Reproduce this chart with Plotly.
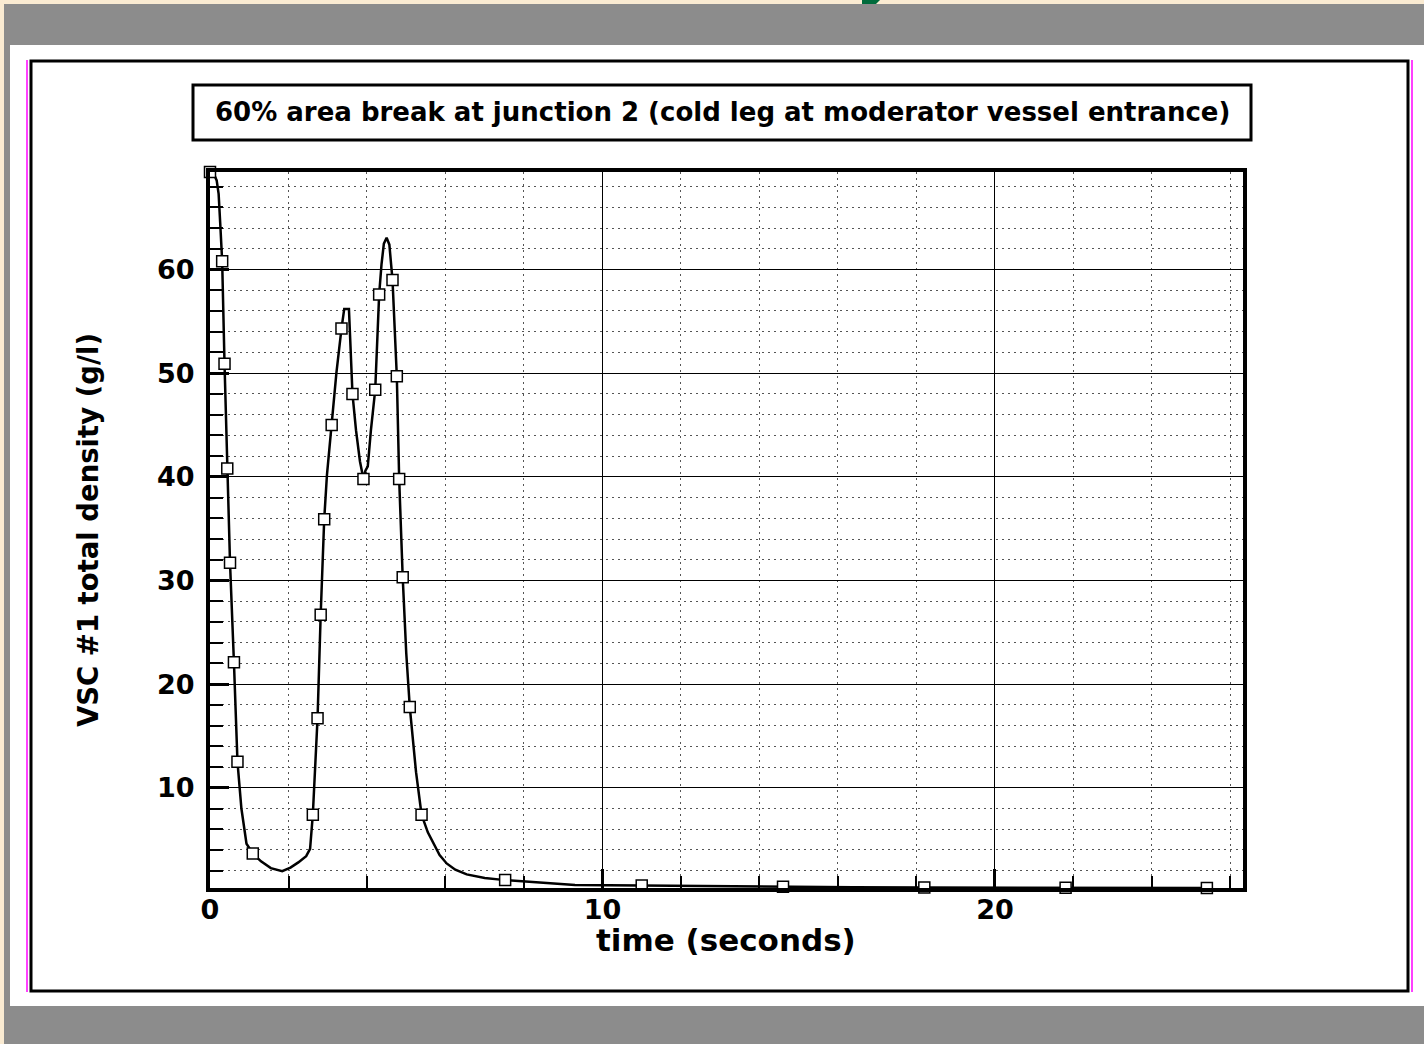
import plotly.graph_objects as go

# ---------------- data ----------------
curve_time = [0.00, 0.10, 0.17, 0.22, 0.26, 0.31, 0.37, 0.44, 0.51, 0.61, 0.70, 0.80, 0.93,
              1.09, 1.30, 1.55, 1.84, 2.05, 2.25, 2.45, 2.55, 2.62, 2.74, 2.82, 2.91, 2.98,
              3.10, 3.22, 3.35, 3.42, 3.54, 3.58, 3.63, 3.72, 3.82, 3.91, 3.96, 4.02, 4.10,
              4.21, 4.31, 4.37, 4.43, 4.50, 4.57, 4.65, 4.71, 4.76, 4.82, 4.91, 5.00, 5.09,
              5.25, 5.39, 5.55, 5.69, 5.85, 6.03, 6.25, 6.54, 7.00, 7.52, 8.66, 9.30, 11.0,
              12.8, 14.6, 16.4, 18.2, 21.8, 25.4]
curve_density = [69.41, 69.2, 68.6, 67.3, 64.5, 60.8, 50.9, 40.8, 31.7, 22.1, 12.5, 8.0, 4.6,
                 3.66, 2.9, 2.25, 1.95, 2.3, 2.8, 3.4, 4.1, 7.4, 16.7, 26.7, 35.9, 40.2,
                 45.0, 50.0, 54.3, 56.2, 56.2, 52.0, 48.0, 44.5, 41.5, 39.8, 40.6, 41.0, 44.5,
                 48.4, 57.6, 60.5, 62.5, 63.06, 62.4, 59.0, 54.0, 49.7, 39.8, 30.3, 23.0, 17.8,
                 11.5, 7.4, 5.7, 4.6, 3.5, 2.7, 2.1, 1.64, 1.3, 1.09, 0.77, 0.62, 0.58,
                 0.50, 0.45, 0.40, 0.37, 0.35, 0.33]

marker_time = [0.00, 0.31, 0.37, 0.44, 0.51, 0.61, 0.70, 1.09, 2.62, 2.74, 2.82, 2.91, 3.10,
               3.35, 3.63, 3.91, 4.21, 4.31, 4.65, 4.76, 4.82, 4.91, 5.09, 5.39, 7.52, 11.0,
               14.6, 18.2, 21.8, 25.4]
marker_density = [69.41, 60.8, 50.9, 40.8, 31.7, 22.1, 12.5, 3.66, 7.4, 16.7, 26.7, 35.9, 45.0,
                  54.3, 48.0, 39.8, 48.4, 57.6, 59.0, 49.7, 39.8, 30.3, 17.8, 7.4, 1.09, 0.58,
                  0.45, 0.37, 0.35, 0.33]

title_text = "60% area break at junction 2 (cold leg at moderator vessel entrance)"
x_title = "time (seconds)"
y_title = "VSC #1 total density (g/l)"

# ---------------- layout geometry ----------------
W, H = 1424, 1044
L, R, T, B = 210, 1243, 172, 888
PW, PH = R - L, B - T


def px(xp):
    return (xp - L) / PW


def py(yp):
    return (B - yp) / PH


def rect(x0, y0, x1, y1, fill=None, line_color=None, line_width=0):
    d = dict(type="rect", xref="paper", yref="paper",
             x0=px(x0), x1=px(x1), y0=py(y1), y1=py(y0), layer="below",
             line=dict(width=line_width, color=line_color or "rgba(0,0,0,0)"))
    if fill:
        d["fillcolor"] = fill
    return d


def vline(x, y0, y1, color, width):
    return dict(type="line", xref="paper", yref="paper", x0=px(x), x1=px(x),
                y0=py(y0), y1=py(y1), layer="below", line=dict(color=color, width=width))


FONT = "DejaVu Sans"

fig = go.Figure()
fig.add_trace(go.Scatter(x=curve_time, y=curve_density, mode="lines",
                         line=dict(color="black", width=2.5), hoverinfo="skip",
                         showlegend=False, cliponaxis=False))
fig.add_trace(go.Scatter(x=marker_time, y=marker_density, mode="markers",
                         marker=dict(symbol="square", size=11, color="white",
                                     line=dict(color="black", width=1.5)),
                         showlegend=False, cliponaxis=False))

shapes = [
    rect(4, 4, W, H, fill="#8c8c8c"),
    rect(10, 45, W, 1006, fill="white"),
    vline(27, 60, 992, "#ff00ff", 1.5),
    vline(1412, 60, 992, "#ff00ff", 1.5),
    rect(31, 61, 1408, 991, line_color="black", line_width=3),
    rect(193, 85, 1251, 140, line_color="black", line_width=3),
    dict(type="path", xref="paper", yref="paper", layer="below",
         path="M {} {} L {} {} L {} {} L {} {} Z".format(px(862), py(0), px(880), py(0),
                                                          px(876), py(4), px(862), py(4)),
         fillcolor="#006b3c", line=dict(width=0)),
]

axis_common = dict(
    showline=True, linewidth=4, linecolor="black", mirror=True,
    ticks="inside", ticklen=19, tickwidth=3, tickcolor="black",
    showgrid=True, gridcolor="black", gridwidth=1, zeroline=False,
    tickfont=dict(family=FONT, size=27, color="black", weight="bold"),
    tick0=0, dtick=10, layer="above traces",
)

fig.update_layout(
    width=W, height=H,
    margin=dict(l=L, r=W - R, t=T, b=H - B, pad=0),
    paper_bgcolor="#faebd2", plot_bgcolor="white",
    showlegend=False,
    shapes=shapes,
    xaxis=dict(range=[0, 26.32], ticklabelstandoff=-5,
               minor=dict(dtick=2, ticks="inside", ticklen=12, tickwidth=1.5, tickcolor="black",
                          showgrid=True, gridcolor="#555555", gridwidth=1, griddash="2px,4px"),
               **axis_common),
    yaxis=dict(range=[0.33, 69.41], ticklabelstandoff=6,
               minor=dict(dtick=2, ticks="inside", ticklen=13, tickwidth=1.5, tickcolor="black",
                          showgrid=True, gridcolor="#555555", gridwidth=1, griddash="2px,4px"),
               **axis_common),
    annotations=[
        dict(text=title_text, xref="paper", yref="paper", x=px(722), y=py(112),
             xanchor="center", yanchor="middle", showarrow=False,
             font=dict(family=FONT, size=26, color="black", weight="bold")),
        dict(text=x_title, xref="paper", yref="paper", x=px(726), y=py(940),
             xanchor="center", yanchor="middle", showarrow=False,
             font=dict(family=FONT, size=31, color="black", weight="bold")),
        dict(text=y_title, xref="paper", yref="paper", x=px(88), y=py(530),
             xanchor="center", yanchor="middle", showarrow=False, textangle=-90,
             font=dict(family=FONT, size=27.5, color="black", weight="bold")),
    ],
)

fig.write_html("out.html")
